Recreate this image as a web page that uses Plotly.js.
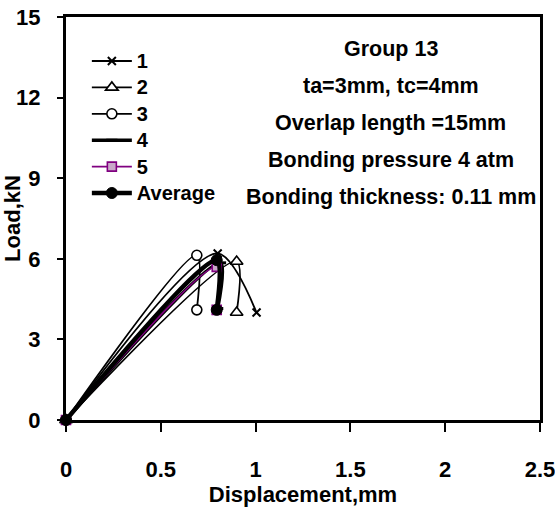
<!DOCTYPE html>
<html>
<head>
<meta charset="utf-8">
<script src="https://cdn.plot.ly/plotly-3.0.1.min.js"></script>
<style>html,body{margin:0;padding:0;background:#fff;}#chart{width:555px;height:513px;}</style>
</head>
<body>
<div id="chart"></div>
<script>
// Displacement (mm) and load (kN) for each specimen: start, peak, failure
const seriesNames = ["1", "2", "3", "4", "5", "Average"];
const disp1 = [0, 0.80, 1.005];
const load1 = [0, 6.20, 4.00];
const disp2 = [0, 0.90, 0.90];
const load2 = [0, 5.90, 4.00];
const disp3 = [0, 0.69, 0.69];
const load3 = [0, 6.13, 4.10];
const disp4 = [0, 0.815, 0.80];
const load4 = [0, 5.85, 4.15];
const disp5 = [0, 0.795, 0.795];
const load5 = [0, 5.70, 4.10];
const dispAvg = [0, 0.795, 0.795];
const loadAvg = [0, 5.95, 4.10];

const xTickVals = [0, 0.5, 1, 1.5, 2, 2.5];
const xTickText = ["0", "0.5", "1", "1.5", "2", "2.5"];
const yTickVals = [0, 3, 6, 9, 12, 15];
const yTickText = ["0", "3", "6", "9", "12", "15"];
const infoLines = ["Group 13", "ta=3mm, tc=4mm", "Overlap length =15mm", "Bonding pressure 4 atm", "Bonding thickness: 0.11 mm"];

const FONT = "Liberation Sans, Arial, sans-serif";
const lg = (t) => '<span style="font-size:20px">' + t + '</span>';

const common = {type: 'scatter', mode: 'lines+markers', cliponaxis: false};

const traces = [
  Object.assign({}, common, {x: disp1, y: load1, name: lg(seriesNames[0]),
    line: {shape: 'spline', smoothing: 0.8, color: '#000', width: 1.8},
    marker: {symbol: 'x-thin-open', size: 8, color: '#000', line: {color: '#000', width: 2}}}),
  Object.assign({}, common, {x: disp2, y: load2, name: lg(seriesNames[1]),
    line: {shape: 'spline', smoothing: 0.8, color: '#000', width: 1.8},
    marker: {symbol: 'triangle-up', size: 11, color: '#fff', line: {color: '#000', width: 1.6}}}),
  Object.assign({}, common, {x: disp3, y: load3, name: lg(seriesNames[2]),
    line: {shape: 'spline', smoothing: 0.8, color: '#000', width: 1.8},
    marker: {symbol: 'circle', size: 10, color: '#fff', line: {color: '#000', width: 1.6}}}),
  Object.assign({}, common, {x: disp4, y: load4, name: lg(seriesNames[3]),
    line: {shape: 'spline', smoothing: 0.8, color: '#000', width: 3.5},
    marker: {symbol: 'line-ew', size: 8, color: '#000', line: {color: '#000', width: 3}}}),
  Object.assign({}, common, {x: disp5, y: load5, name: lg(seriesNames[4]),
    line: {shape: 'spline', smoothing: 0.8, color: '#800080', width: 1.8},
    marker: {symbol: 'square', size: 9, color: '#c9a9c9', line: {color: '#800080', width: 1.6}}}),
  Object.assign({}, common, {x: dispAvg, y: loadAvg, name: lg(seriesNames[5]),
    line: {shape: 'spline', smoothing: 0.8, color: '#000', width: 4.5},
    marker: {symbol: 'circle', size: 11, color: '#000', line: {color: '#000', width: 1}}})
];

const annotations = infoLines.map((t, i) => ({
  xref: 'paper', yref: 'paper', x: 0.685, y: 0.92 - i * 0.0918,
  xanchor: 'center', yanchor: 'middle', showarrow: false,
  text: t, font: {family: FONT, size: 21.5, color: '#000', weight: 'bold'}
}));

const layout = {
  width: 555, height: 513,
  margin: {l: 66, r: 15, t: 17, b: 93},
  paper_bgcolor: '#fff', plot_bgcolor: '#fff',
  font: {family: FONT, color: '#000', weight: 'bold'},
  showlegend: true,
  legend: {x: 0.044, y: 0.936, xanchor: 'left', yanchor: 'top', bgcolor: 'rgba(0,0,0,0)',
    font: {family: FONT, size: 18, color: '#000', weight: 'bold'}, itemwidth: 40, tracegroupgap: 0},
  xaxis: {range: [0, 2.5], tickvals: xTickVals, ticktext: xTickText,
    showgrid: false, zeroline: false, showline: true, linecolor: '#000', linewidth: 3, mirror: true,
    ticks: 'outside', ticklen: 9, tickwidth: 2, tickcolor: '#000', ticklabelstandoff: 19,
    ticklabeloverflow: 'allow',
    tickfont: {family: FONT, size: 22, color: '#000', weight: 'bold'},
    title: {text: 'Displacement,mm', standoff: 4, font: {family: FONT, size: 22, color: '#000', weight: 'bold'}}},
  yaxis: {range: [0, 15], tickvals: yTickVals, ticktext: yTickText,
    showgrid: false, zeroline: false, showline: true, linecolor: '#000', linewidth: 3, mirror: true,
    ticks: 'outside', ticklen: 6, tickwidth: 2, tickcolor: '#000', ticklabelstandoff: 12,
    ticklabeloverflow: 'allow',
    tickfont: {family: FONT, size: 22, color: '#000', weight: 'bold'},
    title: {text: 'Load,kN', standoff: 6, font: {family: FONT, size: 22, color: '#000', weight: 'bold'}}},
  annotations: annotations
};

Plotly.newPlot('chart', traces, layout, {displayModeBar: false, staticPlot: true});
</script>
</body>
</html>
